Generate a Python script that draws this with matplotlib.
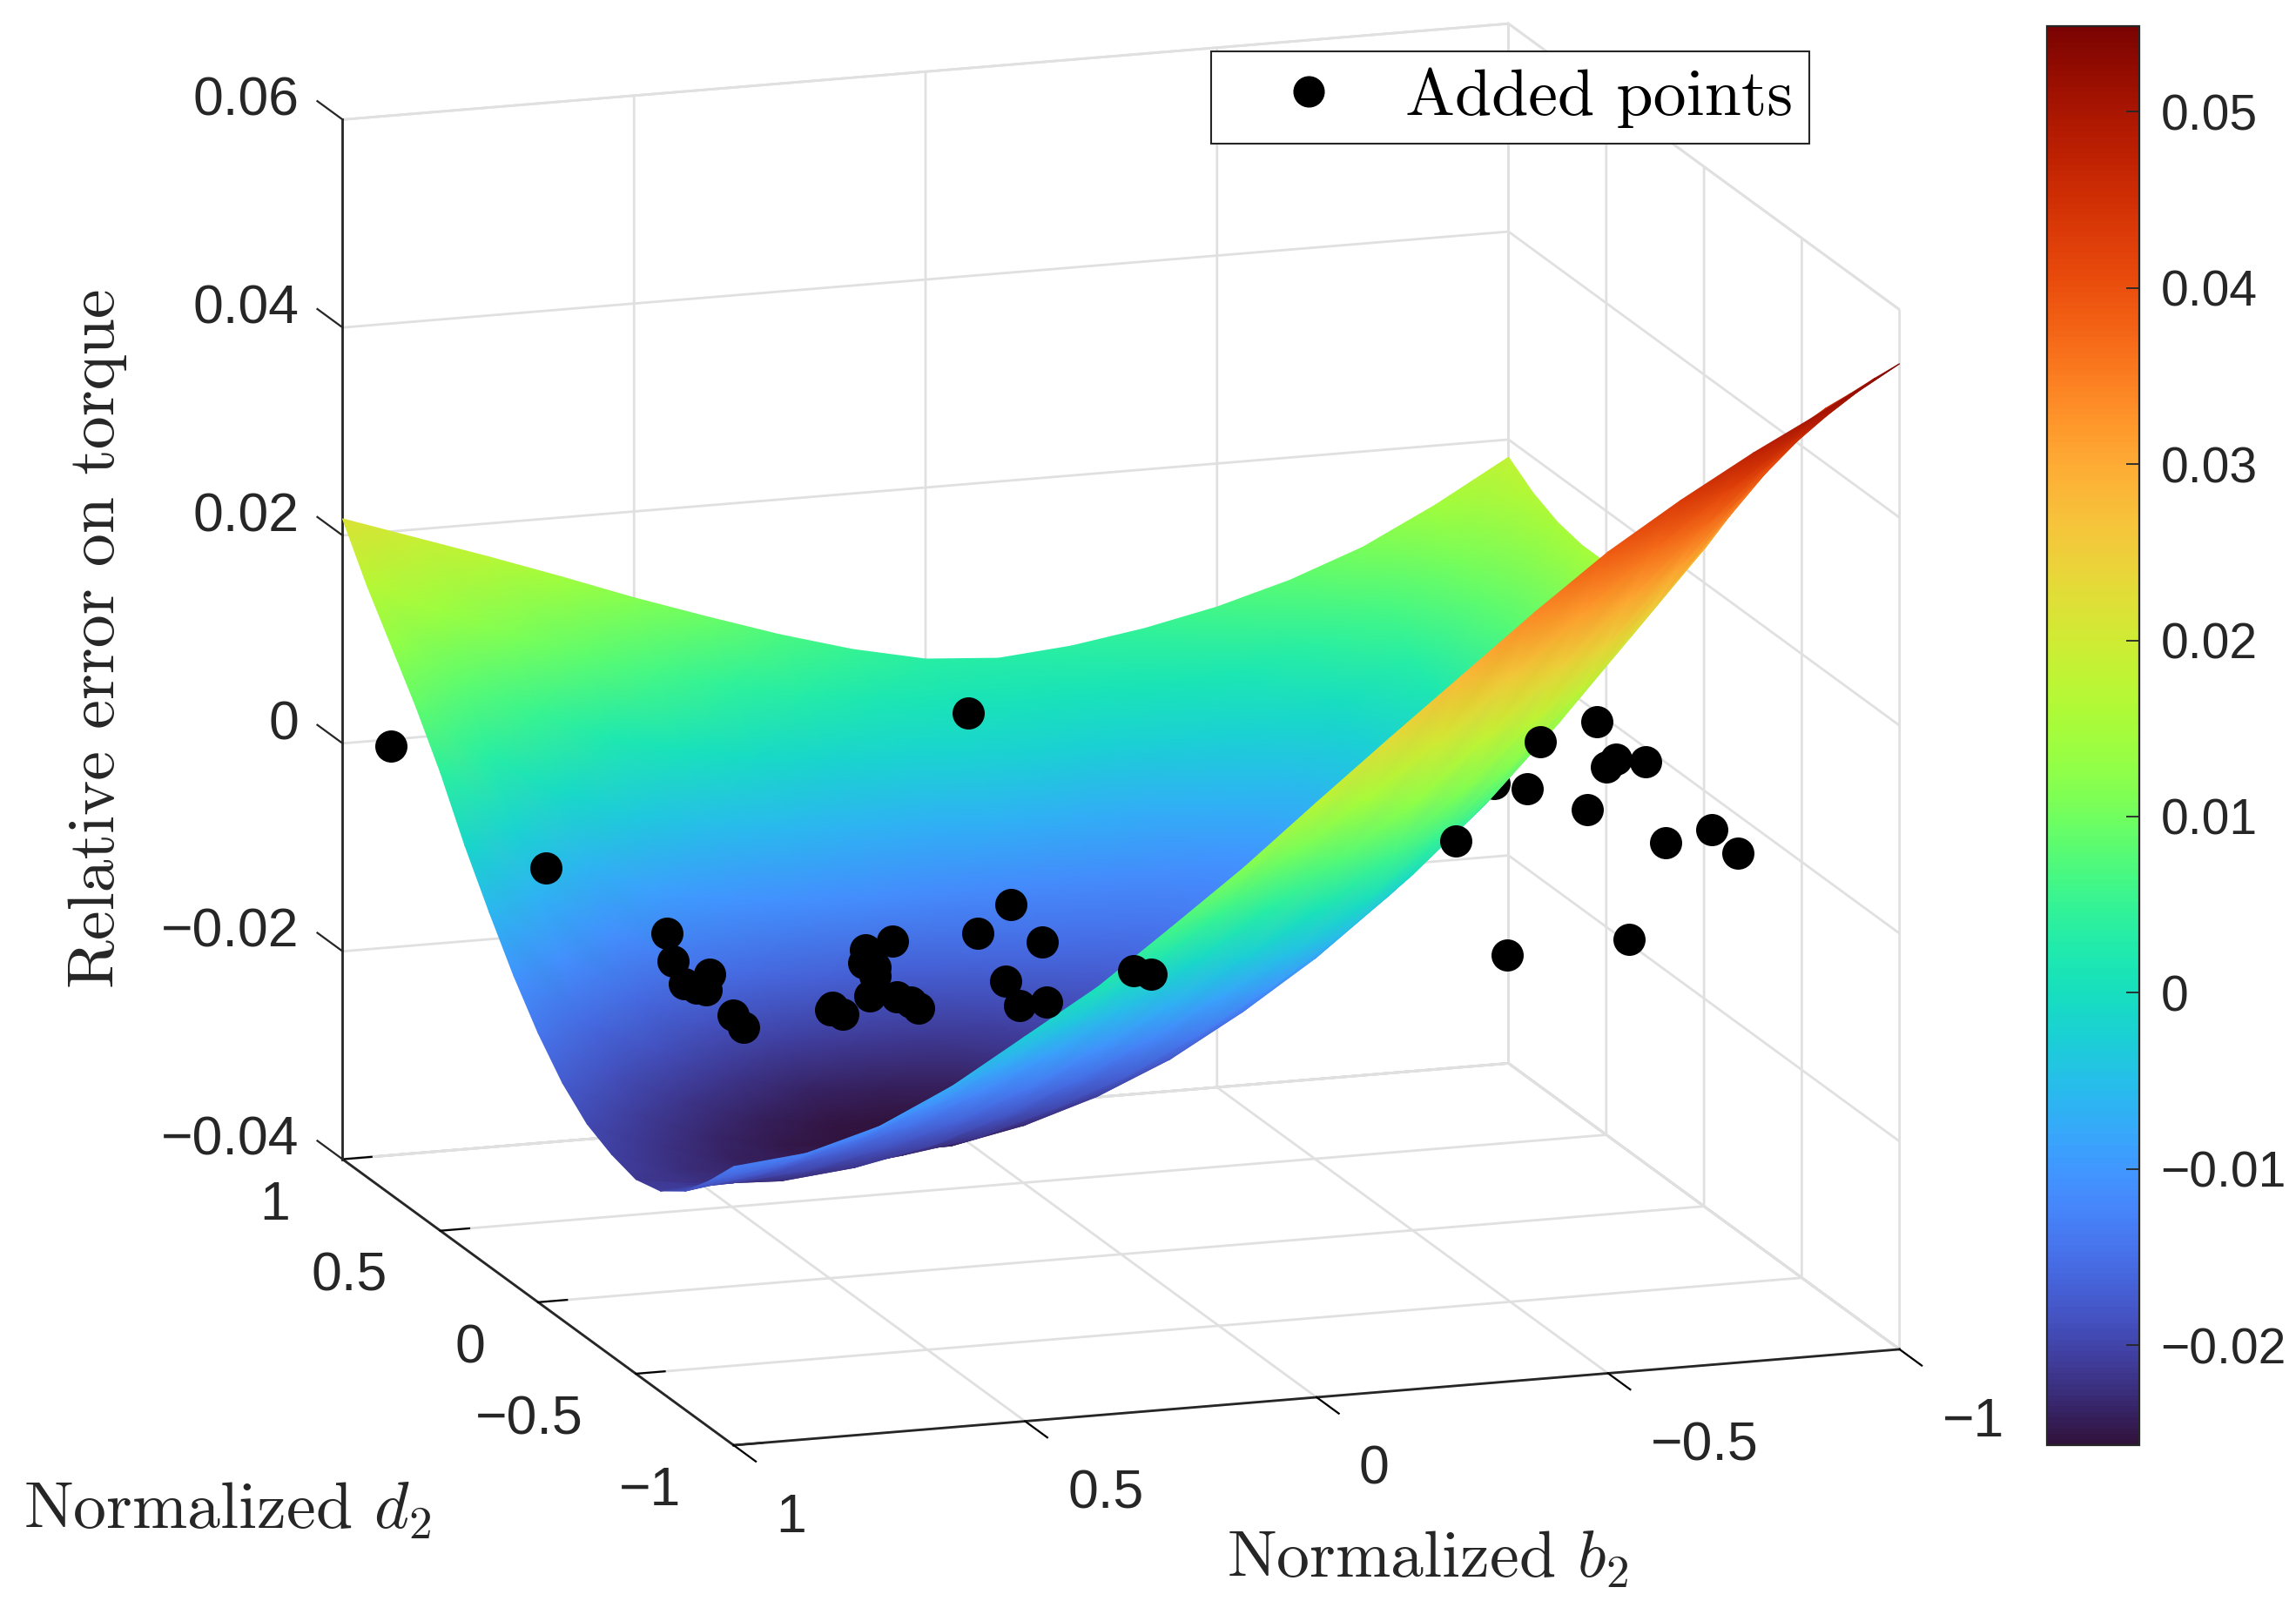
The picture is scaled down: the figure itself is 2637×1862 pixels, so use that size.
import numpy as np
import matplotlib
matplotlib.use('Agg')
import matplotlib.pyplot as plt
from matplotlib.lines import Line2D
from matplotlib.cm import ScalarMappable
from matplotlib.colors import Normalize
from mpl_toolkits.mplot3d import proj3d

plt.rcParams['font.family'] = ['Liberation Sans', 'DejaVu Sans']
plt.rcParams['mathtext.fontset'] = 'cm'

d_vals = [1, 0.875, 0.75, 0.625, 0.5, 0.375, 0.25, 0.125, 0, -0.125, -0.25, -0.375, -0.5, -0.625, -0.75, -0.875, -1]
b_vals = [1, 0.875, 0.75, 0.625, 0.5, 0.375, 0.25, 0.125, 0, -0.125, -0.25, -0.375, -0.5, -0.625, -0.75, -0.875, -1]
# relative error in units of 1e-4, rows follow d_vals, columns follow b_vals
err_vals = [
    [216, 192, 168, 143, 117, 93, 70, 50, 35, 30, 36, 47, 62, 82, 108, 143, 183],
    [169, 138, 109, 83, 61, 44, 30, 20, 13, 8, 9, 11, 17, 36, 65, 108, 166],
    [128, 86, 52, 23, 5, -7, -15, -18, -20, -23, -25, -26, -20, 0, 35, 87, 155],
    [87, 33, -6, -36, -50, -58, -63, -65, -67, -70, -72, -68, -53, -24, 20, 78, 150],
    [41, -20, -63, -93, -105, -112, -115, -116, -116, -117, -115, -101, -75, -36, 15, 77, 150],
    [-12, -68, -111, -143, -159, -168, -169, -164, -156, -148, -137, -113, -81, -41, 20, 85, 153],
    [-59, -112, -153, -186, -205, -215, -215, -203, -185, -167, -145, -113, -75, -28, 40, 100, 165],
    [-103, -153, -190, -218, -235, -243, -241, -222, -197, -172, -142, -105, -62, -6, 75, 145, 195],
    [-141, -185, -218, -240, -252, -256, -250, -226, -195, -165, -130, -88, -40, 33, 115, 185, 235],
    [-172, -207, -234, -249, -254, -258, -248, -226, -196, -158, -116, -68, -14, 62, 155, 225, 284],
    [-194, -221, -239, -247, -245, -244, -230, -208, -178, -138, -92, -38, 22, 103, 180, 252, 335],
    [-206, -226, -237, -238, -230, -220, -199, -174, -140, -100, -54, 0, 62, 134, 212, 290, 380],
    [-213, -223, -226, -219, -205, -183, -155, -122, -85, -48, -5, 51, 115, 185, 260, 338, 420],
    [-207, -205, -199, -185, -166, -139, -106, -69, -30, 10, 55, 113, 177, 245, 315, 385, 454],
    [-190, -180, -166, -146, -120, -88, -50, -9, 35, 78, 125, 183, 245, 308, 370, 429, 485],
    [-163, -153, -135, -109, -76, -39, 6, 53, 105, 152, 201, 258, 316, 372, 422, 469, 517],
    [-132, -125, -105, -72, -30, 12, 63, 115, 172, 228, 283, 338, 390, 434, 474, 510, 548],
]

# added points, all sit on the z = 0 plane
pts_b = [0.93, 0.95, 0.90, 0.95, 0.98, 0.97, 0.96, 0.92, 0.97, 0.98, 0.80, 0.81, 0.80, 0.63, 0.66, 0.65,
         0.67, 0.57, 0.72, 0.68, 0.67, 0.67, 0.42, 0.31, 0.34, 0.48, 0.51, 0.46, -0.03, 0.26, 0.24,
         -0.98, -0.85, -0.97, -0.93, -0.90, -0.73, -0.78, -0.51, -0.83, -0.93, -0.92, -0.57, -0.35]
pts_d = [0.96, 0.11, -0.36, -0.54, -0.69, -0.72, -0.74, -0.64, -0.91, -0.99, -0.91, -0.93, -0.96, -0.57, -0.65, -0.68,
         -0.74, -0.53, -0.86, -0.88, -0.92, -0.96, -0.52, -0.36, -0.61, -0.84, -1.00, -0.99, 0.87, -0.84, -0.87,
         0.49, 0.39, 0.21, 0.24, 0.20, 0.10, -0.06, -0.19, -0.31, -0.25, -0.41, -0.90, -0.93]
# the ones that the surface partly covers
hidden_b = [-0.98, -0.69]
hidden_d = [0.68, 0.15]

tick_vals = [-1, -0.5, 0, 0.5, 1]
tick_labels = ['\u22121', '\u22120.5', '0', '0.5', '1']
z_ticks = [-0.04, -0.02, 0, 0.02, 0.04, 0.06]
z_labels = ['\u22120.04', '\u22120.02', '0', '0.02', '0.04', '0.06']
cbar_ticks = [-0.02, -0.01, 0, 0.01, 0.02, 0.03, 0.04, 0.05]
cbar_labels = ['\u22120.02', '\u22120.01', '0', '0.01', '0.02', '0.03', '0.04', '0.05']
vmin, vmax = -0.02568, 0.05486

W, H = 2637, 1862
rect = [270.3 / W, 1.1 / H, 1981 / W, 1981 / H]
fig = plt.figure(figsize=(W / 100, H / 100), dpi=100)
ax = fig.add_axes(rect, projection='3d', computed_zorder=False)
ax.set_proj_type('ortho')
ax.view_init(elev=14.2, azim=161.46)
ax.set_box_aspect((1, 1, 0.8722), zoom=1.15)
ax.patch.set_alpha(0)

ax.set_xlim(-1, 1)
ax.set_ylim(-1, 1)
ax.set_zlim(-0.04, 0.06)
ax.set_xticks(tick_vals)
ax.set_yticks(tick_vals)
ax.set_zticks(z_ticks)
ax.set_xticklabels([])
ax.set_yticklabels([])
ax.set_zticklabels([])

for axis in (ax.xaxis, ax.yaxis, ax.zaxis):
    axis.set_pane_color((1, 1, 1, 1))
    axis.pane.set_edgecolor('#e0e0e0')
    axis.pane.set_linewidth(2)
    axis.line.set_color('#262626')
    axis.line.set_linewidth(2)
    axis._axinfo['grid'].update(color='#e0e0e0', linewidth=2)
    axis._axinfo['tick'].update(inward_factor=0, linewidth={True: 1.6, False: 1.6}, color='#262626')
ax.zaxis.pane.set_edgecolor('#c4c4c4')
ax.xaxis._axinfo['tick']['outward_factor'] = 0.31
ax.yaxis._axinfo['tick']['outward_factor'] = -0.71
# the z axis belongs on the left corner, mplot3d puts it on the right one
ax.zaxis._axinfo['tick']['outward_factor'] = 0
ax.zaxis.line.set_visible(False)
ax.plot([1, 1], [1, 1], [-0.04, 0.06], color='#262626', lw=2, zorder=0)
for v in z_ticks:
    ax.plot([1, 1.129], [1, 1], [v, v], color='#262626', lw=1.6, zorder=0)
ax.set_xlim(-1, 1)
ax.set_ylim(-1, 1)
ax.set_zlim(-0.04, 0.06)


def to2d(x, y, z):
    px, py, _ = proj3d.proj_transform(x, y, z, ax.get_proj())
    return px, py


# 2D layer with the same frame: gouraud shading needs a QuadMesh, drawn back to front
ov = fig.add_axes(rect)
ov.set_axis_off()

D, B = np.meshgrid(np.array(d_vals), np.array(b_vals), indexing='ij')
Z = np.array(err_vals) * 1e-4
sx, sy = to2d(D.ravel(), B.ravel(), Z.ravel())
sx = np.reshape(sx, D.shape)[:, ::-1]
sy = np.reshape(sy, D.shape)[:, ::-1]

hx, hy = to2d(np.array(hidden_d), np.array(hidden_b), np.zeros(len(hidden_d)))
ov.scatter(hx, hy, s=709, c='k', linewidths=0, zorder=1)
ov.pcolormesh(sx, sy, Z[:, ::-1], shading='gouraud', cmap='turbo', vmin=vmin, vmax=vmax, zorder=2)
px, py = to2d(np.array(pts_d), np.array(pts_b), np.zeros(len(pts_d)))
ov.scatter(px, py, s=709, c='k', linewidths=0, zorder=3)
ov.set_xlim(ax.viewLim.intervalx)
ov.set_ylim(ax.viewLim.intervaly)

# tick labels sit at fixed offsets from their ticks, as in the original
tick_font = dict(fontsize=45, color='#262626', va='center')
for v, s in zip(tick_vals, tick_labels):
    ov.text(*to2d(v, 1.0905, -0.044), s, ha='right', **tick_font)
    ov.text(*to2d(-1.217, v, -0.044), s, ha='left', **tick_font)
for v, s in zip(z_ticks, z_labels):
    ov.text(*to2d(1.2247, 1, v - 0.0013), s, ha='right', **tick_font)

cax = fig.add_axes([2351 / W, (H - 1660) / H, 106 / W, 1630 / H])
cbar = fig.colorbar(ScalarMappable(Normalize(vmin, vmax), 'turbo'), cax=cax)
cbar.set_ticks(cbar_ticks, labels=cbar_labels)
cbar.ax.tick_params(direction='in', length=11, width=1.3, labelsize=41, colors='#262626', pad=17.6)
cbar.outline.set_edgecolor('#262626')
cbar.outline.set_linewidth(1.6)

label_font = dict(family='cmr10', math_fontfamily='cm', color='#262626', fontsize=54.7)
fig.text(27 / W, (H - 1735) / H, r'Normalized $d_2$', ha='left', va='center', **label_font)
fig.text(1640 / W, (H - 1791) / H, r'Normalized $b_2$', ha='center', va='center', **label_font)
fig.text(112 / W, (H - 733) / H, 'Relative error on torque', rotation=90, ha='center', va='center', **label_font)

dot = Line2D([], [], linestyle='none', marker='o', color='k', markersize=25)
leg = fig.legend(handles=[dot], labels=['Added points'], loc='upper left',
                 bbox_to_anchor=(1391 / W, (H - 59) / H), borderaxespad=0, fancybox=False, framealpha=1,
                 edgecolor='#262626', prop=dict(family='cmr10', size=54.7), handlelength=2.48,
                 handletextpad=0.22, borderpad=0.24, numpoints=1)
leg.get_frame().set_linewidth(1.5)

fig.savefig('out.png', dpi=100)
